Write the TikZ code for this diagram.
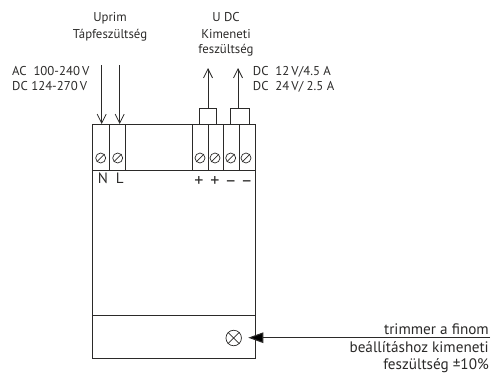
\documentclass[tikz,border=0pt]{standalone}
\usepackage{fontspec}
\setmainfont{PT Sans}
\usetikzlibrary{arrows.meta}
\definecolor{ink}{HTML}{2B2A29}
\tikzset{
  wire/.style={draw=ink,line width=0.9pt},
  lbl/.style={text=ink,font=\fontsize{12.8}{14}\selectfont,inner sep=0pt,anchor=base},
  lbll/.style={lbl,anchor=base west},
  lblr/.style={lbl,font=\fontsize{15.2}{17}\selectfont,anchor=base east},
  term/.style={lbl,font=\fontsize{15}{17}\selectfont},
  plusm/.style={lbl,font=\fontsize{18}{20}\selectfont},
  opena/.style={wire,-{Straight Barb[length=9pt,width=9pt,line width=0.8pt]}},
  screw/.style={circle,draw=ink,line width=0.7pt,minimum size=10pt,inner sep=0pt},
  trim/.style={circle,draw=ink,line width=0.7pt,minimum size=15.5pt,inner sep=0pt},
}
\begin{document}
\begin{tikzpicture}[x=1pt,y=-1pt]
\useasboundingbox (0,0) rectangle (492,373);
% body
\draw[wire] (92.3,124.7) rectangle (255,358);
\draw[wire] (92.3,170.5) -- (255,170.5);
\draw[wire] (92.3,315.7) -- (255,315.7);
\foreach \x in {109.3,125.7,192.7,208.3,223.7,239.3}
  \draw[wire] (\x,124.7) -- (\x,170.5);
% screws
\foreach \n/\x in {s1/100.7,s2/117.7,s3/200,s4/215,s5/230.7,s6/246}{
  \node[screw] (\n) at (\x,158) {};
  \draw[draw=ink,line width=0.7pt] (\n.225) -- (\n.45);
}
% terminals labels
\node[term] (tn) at (103,183) {N};
\node[term] (tl) at (119.7,183) {L};
\node[plusm] (p1) at (199,186) {+};
\node[plusm] (p2) at (215,186) {+};
\node[plusm] (m1) at (230.7,186) {–};
\node[plusm] (m2) at (246.7,186) {–};
% input arrows
\coordinate (i1) at (101.7,65);
\coordinate (i1e) at (101.7,124);
\coordinate (i2) at (119.7,65);
\coordinate (i2e) at (119.7,124);
\draw[opena] (i1) -- (i1e);
\draw[opena] (i2) -- (i2e);
% output brackets and arrows
\draw[wire] (199.3,124.7) |- (216.7,108.3) -- (216.7,124.7);
\draw[wire] (230.7,124.7) |- (249,108.3) -- (249,124.7);
\coordinate (o1) at (208,108.3);
\coordinate (o1e) at (208,68);
\coordinate (o2) at (238,108.3);
\coordinate (o2e) at (238,68);
\draw[opena] (o1) -- (o1e);
\draw[opena] (o2) -- (o2e);
% trimmer
\node[trim] (tr) at (233.7,338) {};
\draw[draw=ink,line width=0.7pt] (tr.45) -- (tr.225) (tr.135) -- (tr.315);
\coordinate (tra) at (490,337.7);
\coordinate (trb) at (248.3,337.7);
\draw[wire,line width=1.1pt,-{Triangle[length=15pt,width=10.5pt,fill=black]}] (tra) -- (trb);
% texts
\node[lbl] (a1) at (110,21.5) {Uprim};
\node[lbl] (a2) at (110,38) {Tápfeszültség};
\node[lbl] (b1) at (226,21.5) {U DC};
\node[lbl] (b2) at (226,38) {Kimeneti};
\node[lbl] (b3) at (226,53) {feszültség};
\node[lbll] (c1) at (12,75.5) {AC\ \ 100-240\,V};
\node[lbll] (c2) at (12,90.5) {DC 124-270\,V};
\node[lbll] (d1) at (252.7,75.5) {DC\ \ 12\,V/4.5 A};
\node[lbll] (d2) at (252.7,90.5) {DC\ \ 24\,V/ 2.5 A};
\node[lblr] (e1) at (489,334.3) {trimmer a finom};
\node[lblr] (e2) at (489,352.5) {beállításhoz kimeneti};
\node[lblr] (e3) at (489,369.3) {feszültség ±10\%};
\end{tikzpicture}
\end{document}
